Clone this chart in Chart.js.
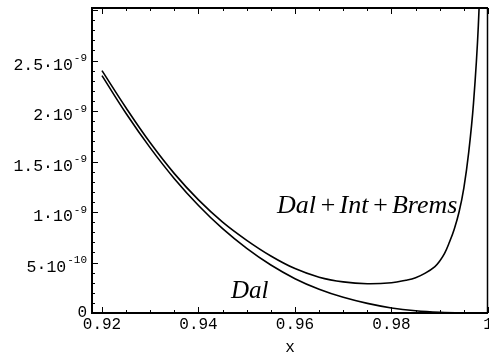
<!DOCTYPE html>
<html>
<head>
<meta charset="utf-8">
<script src="https://cdn.jsdelivr.net/npm/chart.js@4.4.1/dist/chart.umd.min.js"></script>
<style>
  html, body { margin: 0; padding: 0; background: #fff; }
  #chart { display: block; }
</style>
</head>
<body>
<canvas id="chart" width="489" height="357"></canvas>
<script>
// Dal curve (lower)
var dalX = [0.920, 0.925, 0.930, 0.935, 0.940, 0.945, 0.950, 0.955, 0.960,
            0.965, 0.970, 0.975, 0.980, 0.985, 0.990, 0.995, 1.000];
var dalY = [2.35e-9, 1.975e-9, 1.635e-9, 1.33e-9, 1.065e-9, 8.35e-10, 6.4e-10, 4.75e-10, 3.4e-10,
            2.35e-10, 1.55e-10, 9.5e-11, 5e-11, 2.2e-11, 7e-12, 1e-12, 0];

// Dal+Int+Brems curve (upper)
var totX = [0.920, 0.925, 0.930, 0.935, 0.940, 0.945, 0.950, 0.955, 0.960, 0.965, 0.970,
            0.975, 0.980, 0.983, 0.985, 0.987, 0.989, 0.990, 0.991, 0.992, 0.993, 0.994,
            0.995, 0.996, 0.997, 0.998, 0.999];
var totY = [2.40e-9, 2.03e-9, 1.685e-9, 1.38e-9, 1.12e-9, 9.0e-10, 7.2e-10, 5.65e-10, 4.4e-10, 3.55e-10, 3.08e-10,
            2.9e-10, 3.0e-10, 3.25e-10, 3.5e-10, 3.95e-10, 4.6e-10, 5.15e-10, 5.9e-10, 7.0e-10, 8.3e-10, 1.0e-9,
            1.24e-9, 1.59e-9, 2.08e-9, 2.85e-9, 4.2e-9];

// axis ticks and labels
var xTicks = [0.92, 0.94, 0.96, 0.98, 1];
var xTickLabels = ['0.92', '0.94', '0.96', '0.98', '1'];
var yTicks = [0, 5e-10, 1e-9, 1.5e-9, 2e-9, 2.5e-9];
var yMantissa = ['0', '5\u00b710', '1\u00b710', '1.5\u00b710', '2\u00b710', '2.5\u00b710'];
var yExponent = ['', '-10', '-9', '-9', '-9', '-9'];

// curve names, the long one is drawn in parts with a little air round the "+"
var totalLabelParts = ['Dal', '+', 'Int', '+', 'Brems'];
var dalLabel = 'Dal';

function toPoints(xs, ys) {
    return xs.map(function (x, i) { return { x: x, y: ys[i] }; });
}

var MONO = "'Liberation Mono', 'DejaVu Sans Mono', monospace";
var SERIF_IT = "italic 26px 'Liberation Serif', 'DejaVu Serif', serif";

// frame, inward ticks, y labels with exponents, curve names
var decor = {
    id: 'decor',
    afterDraw: function (chart) {
        var ctx = chart.ctx;
        var a = chart.chartArea;
        var xs = chart.scales.x, ys = chart.scales.y;
        ctx.save();
        ctx.strokeStyle = '#000';
        ctx.lineWidth = 1;

        // minor + major ticks on x (bottom and top)
        for (var i = 0; i <= 16; i++) {
            var v = 0.92 + i * 0.005;
            var px = Math.round(xs.getPixelForValue(v)) + 0.5;
            var len = (i % 4 === 0) ? 6 : 3;
            ctx.beginPath();
            ctx.moveTo(px, a.bottom); ctx.lineTo(px, a.bottom - len);
            ctx.moveTo(px, a.top); ctx.lineTo(px, a.top + len);
            ctx.stroke();
        }
        // minor + major ticks on y (left only)
        for (var j = 0; j <= 30; j++) {
            var py = Math.round(ys.getPixelForValue(j * 1e-10)) + 0.5;
            var ylen = (j % 5 === 0) ? 6 : 3;
            ctx.beginPath();
            ctx.moveTo(a.left, py); ctx.lineTo(a.left + ylen, py);
            ctx.stroke();
        }

        // frame
        ctx.lineWidth = 2;
        ctx.beginPath();
        ctx.moveTo(a.right, a.top); ctx.lineTo(a.left, a.top);
        ctx.lineTo(a.left, a.bottom); ctx.lineTo(a.right, a.bottom);
        ctx.stroke();
        ctx.lineWidth = 1.5;
        ctx.beginPath();
        ctx.moveTo(a.right - 0.5, a.top); ctx.lineTo(a.right - 0.5, a.bottom);
        ctx.stroke();

        // y tick labels
        ctx.fillStyle = '#000';
        ctx.textBaseline = 'alphabetic';
        ctx.textAlign = 'right';
        var rightEdge = 87;
        yTicks.forEach(function (t, k) {
            var ty = ys.getPixelForValue(t);
            if (yExponent[k] === '') {
                ctx.font = '16px ' + MONO;
                ctx.fillText(yMantissa[k], rightEdge, ty + 4);
                return;
            }
            ctx.font = '11px ' + MONO;
            var ew = ctx.measureText(yExponent[k]).width;
            ctx.fillText(yExponent[k], rightEdge, ty + 0.5);
            ctx.font = '16.5px ' + MONO;
            ctx.fillText(yMantissa[k], rightEdge - ew - 1, ty + 9);
        });

        // curve names
        ctx.textAlign = 'left';
        ctx.font = SERIF_IT;
        var cx = 277;
        totalLabelParts.forEach(function (s, k) {
            ctx.fillText(s, cx, 213);
            cx += ctx.measureText(s).width + (k < totalLabelParts.length - 1 ? 3 : 0);
        });
        ctx.font = "italic 25px 'Liberation Serif', 'DejaVu Serif', serif";
        ctx.fillText(dalLabel, 231, 298);
        ctx.restore();
    }
};

new Chart(document.getElementById('chart').getContext('2d'), {
    type: 'line',
    data: {
        datasets: [{
            label: totalLabelParts.join(''),
            data: toPoints(totX, totY),
            borderColor: '#000',
            borderWidth: 1.6,
            pointRadius: 0,
            tension: 0.4,
            fill: false
        }, {
            label: dalLabel,
            data: toPoints(dalX, dalY),
            borderColor: '#000',
            borderWidth: 1.6,
            pointRadius: 0,
            tension: 0.4,
            fill: false
        }]
    },
    options: {
        responsive: false,
        devicePixelRatio: 1,
        animation: false,
        layout: { padding: { top: 8, right: 1, left: 0, bottom: 0 } },
        plugins: {
            legend: { display: false },
            tooltip: { enabled: false }
        },
        scales: {
            x: {
                type: 'linear',
                min: 0.91793,
                max: 1.0,
                grid: { display: false, drawTicks: false },
                border: { display: false },
                afterBuildTicks: function (scale) {
                    scale.ticks = xTicks.map(function (v) { return { value: v }; });
                },
                afterFit: function (scale) {
                    scale.height = 44;
                    scale.paddingLeft = 0;
                    scale.paddingRight = 0;
                },
                ticks: {
                    autoSkip: false,
                    maxRotation: 0,
                    padding: 2,
                    color: '#000',
                    font: { family: MONO, size: 16 },
                    callback: function (v) {
                        var k = xTicks.indexOf(v);
                        return k >= 0 ? xTickLabels[k] : '';
                    }
                },
                title: {
                    display: true,
                    text: 'x',
                    color: '#000',
                    padding: { top: 0, bottom: 0 },
                    font: { family: MONO, size: 16 }
                }
            },
            y: {
                type: 'linear',
                min: 0,
                max: 3.02e-9,
                grid: { display: false, drawTicks: false },
                border: { display: false },
                ticks: { display: false },
                afterFit: function (scale) {
                    scale.width = 92;
                }
            }
        }
    },
    plugins: [decor]
});
</script>
</body>
</html>
